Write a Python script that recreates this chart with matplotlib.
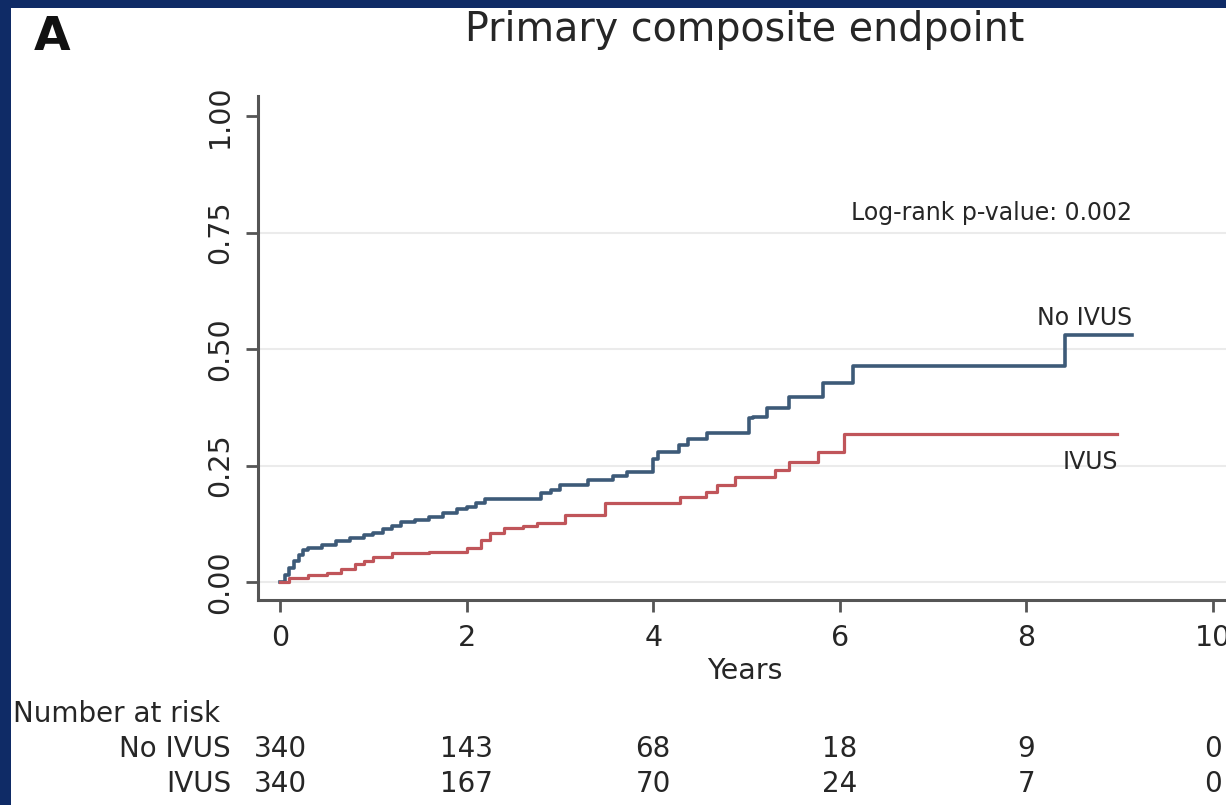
import matplotlib
matplotlib.use("Agg")
import matplotlib.pyplot as plt
import matplotlib.transforms as mtransforms
from matplotlib.patches import Rectangle

plt.rcParams['font.family'] = ['DejaVu Sans']

# Kaplan-Meier style cumulative incidence
t_no = [0, 0.05, 0.1, 0.15, 0.2, 0.25, 0.3, 0.45, 0.6, 0.75, 0.9, 1.0, 1.1, 1.2,
        1.3, 1.45, 1.6, 1.75, 1.9, 2.0, 2.1, 2.2, 2.8, 2.9, 3.0, 3.3, 3.57, 3.72,
        4.0, 4.05, 4.28, 4.37, 4.58, 5.03, 5.07, 5.22, 5.45, 5.82, 6.14, 8.41, 9.13]
v_no = [0, 0.015, 0.03, 0.045, 0.058, 0.068, 0.073, 0.08, 0.088, 0.094, 0.1, 0.106,
        0.113, 0.12, 0.128, 0.133, 0.14, 0.148, 0.156, 0.162, 0.17, 0.178, 0.19,
        0.197, 0.208, 0.219, 0.228, 0.237, 0.265, 0.28, 0.294, 0.307, 0.32, 0.352,
        0.355, 0.374, 0.398, 0.427, 0.463, 0.53, 0.53]

t_ivus = [0, 0.1, 0.3, 0.5, 0.65, 0.8, 0.9, 1.0, 1.2, 1.6, 2.0, 2.15, 2.25, 2.4,
          2.6, 2.75, 3.05, 3.48, 4.29, 4.57, 4.68, 4.88, 5.31, 5.45, 5.77, 6.04, 8.97]
v_ivus = [0, 0.008, 0.015, 0.019, 0.028, 0.038, 0.045, 0.054, 0.062, 0.065, 0.073,
          0.09, 0.105, 0.116, 0.12, 0.126, 0.144, 0.17, 0.183, 0.193, 0.208, 0.226,
          0.24, 0.258, 0.28, 0.318, 0.318]

# Number at risk table
risk_years = [0, 2, 4, 6, 8, 10]
risk_no = [340, 143, 68, 18, 9, 0]
risk_ivus = [340, 167, 70, 24, 7, 0]

x_ticks = [0, 2, 4, 6, 8, 10]
y_ticks = [0, 0.25, 0.5, 0.75, 1.0]
y_labels = ['0.00', '0.25', '0.50', '0.75', '1.00']

W, H = 1226, 805
txt = '#262626'
axcol = '#555555'


def fx(px):
    return px / W


def fy(py):
    return 1 - py / H


fig = plt.figure(figsize=(W / 100, H / 100), dpi=100, facecolor='#0f2b66')
fig.patches.append(Rectangle((fx(11), 0), 1, fy(8), transform=fig.transFigure,
                             facecolor='white', edgecolor='none', zorder=-10))

ax = fig.add_axes([fx(258), fy(600), fx(1226 - 258), (600 - 96) / H])
ax.set_facecolor('none')
ax.set_xlim(-0.236, 10.139)
ax.set_ylim(-0.0386, 1.043)

for y in [0, 0.25, 0.5, 0.75]:
    ax.axhline(y, color='#ebebeb', lw=1.5, zorder=1)

ax.step(t_no, v_no, where='post', color='#3d5a78', lw=2.6, zorder=3)
ax.step(t_ivus, v_ivus, where='post', color='#c0555a', lw=2.3, zorder=3)

for s in ['top', 'right']:
    ax.spines[s].set_visible(False)
for s in ['left', 'bottom']:
    ax.spines[s].set_color(axcol)
    ax.spines[s].set_linewidth(2.2)

ax.set_xticks(x_ticks)
ax.set_yticks(y_ticks)
ax.set_yticklabels(y_labels)
ax.tick_params(length=8.5, width=2, color=axcol, labelsize=20.5, labelcolor=txt, pad=9)
plt.setp(ax.get_yticklabels(), rotation=90, va='center')

ax.text(9.13, 0.777, 'Log-rank p-value: 0.002', ha='right', va='baseline',
        fontsize=17, color=txt)
ax.text(9.13, 0.551, 'No IVUS', ha='right', va='baseline', fontsize=17, color=txt)
ax.text(8.98, 0.2425, 'IVUS', ha='right', va='baseline', fontsize=17, color=txt)

fig.text(fx(745), fy(30), 'Primary composite endpoint', ha='center', va='center',
         fontsize=28.5, color=txt)
fig.text(fx(52), fy(38), 'A', ha='center', va='center', fontsize=34,
         fontweight='bold', color='#111111')
fig.text(fx(745), fy(671), 'Years', ha='center', va='center', fontsize=20.5, color=txt)

fig.text(fx(13), fy(714), 'Number at risk', ha='left', va='center', fontsize=20, color=txt)
fig.text(fx(231), fy(749), 'No IVUS', ha='right', va='center', fontsize=20, color=txt)
fig.text(fx(231), fy(784), 'IVUS', ha='right', va='center', fontsize=20, color=txt)

tr = mtransforms.blended_transform_factory(ax.transData, fig.transFigure)
for yr, a, b in zip(risk_years, risk_no, risk_ivus):
    fig.text(yr, fy(749), str(a), transform=tr, ha='center', va='center',
             fontsize=20, color=txt)
    fig.text(yr, fy(784), str(b), transform=tr, ha='center', va='center',
             fontsize=20, color=txt)

fig.savefig('out.png', dpi=100, facecolor=fig.get_facecolor())
